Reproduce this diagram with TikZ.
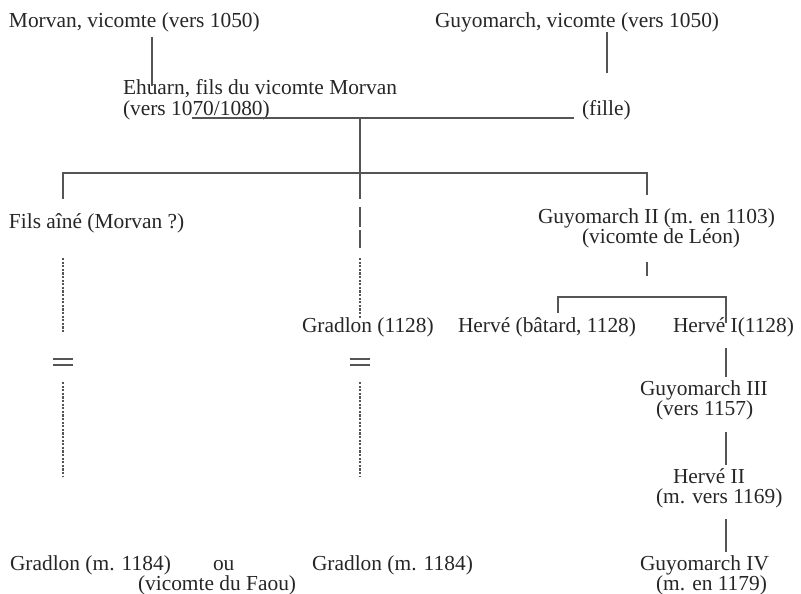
\documentclass[tikz,border=0pt]{standalone}
\usepackage{fontspec}
\setmainfont{Liberation Serif}
\definecolor{txt}{HTML}{262626}
\definecolor{ln}{HTML}{555555}
\begin{document}
\begin{tikzpicture}[x=1pt,y=-1pt,
  lbl/.style={anchor=base west,inner sep=0pt,outer sep=0pt,text=txt,font=\fontsize{21.4}{20}\selectfont},
  conn/.style={draw=ln,line width=1.3pt},
  fine/.style={draw=ln,line width=1.3pt,dash pattern=on 2.2pt off 1.4pt},
  longd/.style={draw=ln,line width=1.3pt}]
\useasboundingbox (0,0) rectangle (801,594);
% texts
\node[lbl] (morvan) at (9,28) {Morvan, vicomte (vers 1050)};
\node[lbl] (guyo) at (435,28) {Guyomarch, vicomte (vers 1050)};
\node[lbl] (ehuarnA) at (123,95) {Ehuarn, fils du vicomte Morvan};
\node[lbl] (ehuarnB) at (123,115) {(vers 1070/1080)};
\node[lbl] (fille) at (582,115) {(fille)};
\node[lbl] (fils) at (9,228) {Fils aîné (Morvan ?)};
\node[lbl] (guyoIIa) at (538,223) {Guyomarch II (m. en 1103)};
\node[lbl] (guyoIIb) at (582,243) {(vicomte de Léon)};
\node[lbl] (gradlon) at (302,332) {Gradlon (1128)};
\node[lbl] (herveB) at (458,332) {Hervé (bâtard, 1128)};
\node[lbl] (herveI) at (673,332) {Hervé I(1128)};
\node[lbl] (guyoIIIa) at (640,395) {Guyomarch III};
\node[lbl] (guyoIIIb) at (656,415) {(vers 1157)};
\node[lbl] (herveIIa) at (673,483) {Hervé II};
\node[lbl] (herveIIb) at (656,503) {(m. vers 1169)};
\node[lbl] (guyoIVa) at (640,570) {Guyomarch IV};
\node[lbl] (guyoIVb) at (656,590) {(m. en 1179)};
\node[lbl] (gradA) at (10,570) {Gradlon (m. 1184)};
\node[lbl] (ou) at (213,570) {ou};
\node[lbl] (gradB) at (312,570) {Gradlon (m. 1184)};
\node[lbl] (faou) at (138,590) {(vicomte du Faou)};
% coordinates
\coordinate (m1) at (152,37); \coordinate (m2) at (152,86);
\coordinate (g1) at (607,32); \coordinate (g2) at (607,73);
\coordinate (marL) at (192,118); \coordinate (marR) at (574,118);
\coordinate (c0) at (360,118); \coordinate (c1) at (360,199);
\coordinate (sibL) at (63,173); \coordinate (sibM) at (360,173); \coordinate (sibR) at (647,173);
\coordinate (sibLd) at (63,199); \coordinate (sibRd) at (647,195);
\coordinate (d1) at (360,207); \coordinate (d2) at (360,227);
\coordinate (d3) at (360,230); \coordinate (d4) at (360,248);
\coordinate (lf1) at (63,258); \coordinate (lf2) at (63,332);
\coordinate (mf1) at (360,258); \coordinate (mf2) at (360,318);
\coordinate (lf3) at (63,382); \coordinate (lf4) at (63,477);
\coordinate (mf3) at (360,382); \coordinate (mf4) at (360,477);
\coordinate (gII1) at (647,262); \coordinate (gII2) at (647,276);
\coordinate (hL) at (558,297); \coordinate (hR) at (726,297);
\coordinate (hLd) at (558,313); \coordinate (hRd) at (726,323);
\coordinate (v1) at (726,348); \coordinate (v2) at (726,377);
\coordinate (v3) at (726,432); \coordinate (v4) at (726,465);
\coordinate (v5) at (726,519); \coordinate (v6) at (726,552);
% connectors
\draw[conn] (m1) -- (m2);
\draw[conn] (g1) -- (g2);
\draw[conn] (marL) -- (marR);
\draw[conn] (c0) -- (c1);
\draw[conn] (sibLd) -- (sibL) -- (sibR) -- (sibRd);
\draw[longd] (d1) -- (d2);
\draw[longd] (d3) -- (d4);
\draw[fine] (lf1) -- (lf2);
\draw[fine] (mf1) -- (mf2);
\draw[fine] (lf3) -- (lf4);
\draw[fine] (mf3) -- (mf4);
% equal signs
\draw[conn] (53,359) -- (73,359) (53,365) -- (73,365);
\draw[conn] (350,359) -- (370,359) (350,365) -- (370,365);
\draw[conn] (gII1) -- (gII2);
\draw[conn] (hLd) -- (hL) -- (hR) -- (hRd);
\draw[conn] (v1) -- (v2);
\draw[conn] (v3) -- (v4);
\draw[conn] (v5) -- (v6);
\end{tikzpicture}
\end{document}
